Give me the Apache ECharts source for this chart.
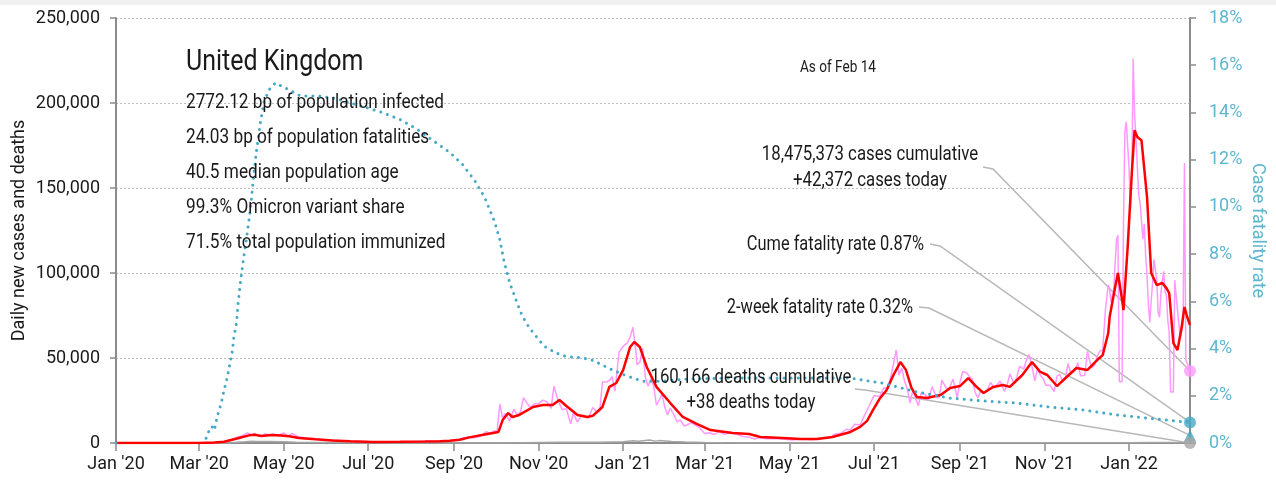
<!DOCTYPE html>
<html>
<head>
<meta charset="utf-8">
<script src="https://cdn.jsdelivr.net/npm/echarts@6/dist/echarts.min.js"></script>
<style>
  html, body { margin: 0; padding: 0; background: #ffffff; }
  #chart { width: 1276px; height: 482px; }
</style>
</head>
<body>
<div id="chart"></div>
<script>
// ---- data -------------------------------------------------------------
const FIRST_DAY = '2020-01-01';
const LAST_DAY = '2022-02-14';
const MONTHS = ['Jan','Feb','Mar','Apr','May','Jun','Jul','Aug','Sep','Oct','Nov','Dec'];

const countryName = 'United Kingdom';
const statLines = [
  '2772.12 bp of population infected',
  '24.03 bp of population fatalities',
  '40.5 median population age',
  '99.3% Omicron variant share',
  '71.5% total population immunized'
];
const asOfText = 'As of Feb 14';

const casesCumulative = '18,475,373';
const casesToday = 42372;
const deathsCumulative = '160,166';
const deathsToday = 38;
const cumeFatalityRate = 0.87;
const twoWeekFatalityRate = 0.32;

// 7-day average of new cases
const casesAvg = [
  ['2020-01-01',0],['2020-03-01',0],['2020-03-12',300],['2020-03-19',700],['2020-03-24',1800],
  ['2020-03-29',2800],['2020-04-06',4500],['2020-04-10',4800],['2020-04-15',4100],['2020-04-22',4700],
  ['2020-04-29',4400],['2020-05-05',4000],['2020-05-12',3000],['2020-05-24',2200],['2020-06-05',1500],
  ['2020-06-18',1000],['2020-07-04',600],['2020-07-24',700],['2020-08-11',900],['2020-08-22',1100],
  ['2020-08-29',1300],['2020-09-05',1900],['2020-09-12',3300],['2020-09-22',4800],['2020-10-03',6500],
  ['2020-10-06',13500],['2020-10-10',17600],['2020-10-13',15300],['2020-10-18',16500],['2020-10-28',21200],
  ['2020-11-04',22300],['2020-11-11',22300],['2020-11-16',25300],['2020-11-21',21800],['2020-11-29',16500],
  ['2020-12-06',15300],['2020-12-10',16000],['2020-12-17',21200],['2020-12-22',33000],['2020-12-27',35300],
  ['2021-01-01',43000],['2021-01-06',56500],['2021-01-09',59400],['2021-01-13',56500],['2021-01-18',44700],
  ['2021-01-25',33000],['2021-02-04',23500],['2021-02-13',15300],['2021-02-23',11200],['2021-03-05',7600],
  ['2021-03-21',5900],['2021-04-02',5300],['2021-04-10',3500],['2021-04-26',2900],['2021-05-09',2300],
  ['2021-05-21',2400],['2021-06-01',3500],['2021-06-14',6500],['2021-06-21',9500],['2021-06-26',13000],
  ['2021-06-30',19000],['2021-07-05',26000],['2021-07-10',31000],['2021-07-15',40000],['2021-07-20',47600],
  ['2021-07-24',43000],['2021-07-28',32400],['2021-08-01',27000],['2021-08-08',26500],['2021-08-18',28200],
  ['2021-08-25',32400],['2021-09-01',33500],['2021-09-07',38200],['2021-09-13',33000],['2021-09-18',29400],
  ['2021-09-25',33000],['2021-10-02',34100],['2021-10-07',33000],['2021-10-16',40000],['2021-10-23',47600],
  ['2021-10-29',41800],['2021-11-03',40000],['2021-11-10',33500],['2021-11-17',38800],['2021-11-24',44100],
  ['2021-12-02',43000],['2021-12-09',48800],['2021-12-13',51700],['2021-12-17',64700],['2021-12-18',74100],
  ['2021-12-22',91700],['2021-12-24',100000],['2021-12-27',84100],['2021-12-28',78200],['2021-12-31',115000],
  ['2022-01-03',158700],['2022-01-05',184000],['2022-01-07',180000],['2022-01-10',178000],['2022-01-14',144600],
  ['2022-01-17',100000],['2022-01-21',92900],['2022-01-25',94100],['2022-01-28',91100],['2022-01-30',88200],
  ['2022-02-02',58800],['2022-02-05',54700],['2022-02-08',68200],['2022-02-10',80000],['2022-02-12',74100],
  ['2022-02-14',69400]
];

// reported new cases per day
const casesDaily = [
  ['2020-01-01',0],['2020-03-01',0],['2020-03-10',50],['2020-03-17',400],['2020-03-22',1000],['2020-03-27',2900],
  ['2020-04-01',4300],['2020-04-05',5900],['2020-04-08',4600],['2020-04-10',5700],['2020-04-13',4300],
  ['2020-04-16',4600],['2020-04-18',5500],['2020-04-21',4300],['2020-04-24',5400],['2020-04-27',4300],
  ['2020-05-01',6000],['2020-05-04',4000],['2020-05-07',5600],['2020-05-11',3900],['2020-05-14',3400],
  ['2020-05-18',2700],['2020-05-22',2600],['2020-05-27',2000],['2020-06-03',1800],['2020-06-10',1400],
  ['2020-06-17',1100],['2020-06-25',900],['2020-07-02',700],['2020-07-12',600],['2020-07-22',800],
  ['2020-08-01',800],['2020-08-10',1000],['2020-08-20',1100],['2020-08-28',1400],['2020-09-04',1900],
  ['2020-09-08',3000],['2020-09-11',3500],['2020-09-14',3000],['2020-09-17',3400],['2020-09-20',4000],
  ['2020-09-24',6600],['2020-09-27',5700],['2020-09-30',7100],['2020-10-02',6900],['2020-10-04',23000],
  ['2020-10-06',14500],['2020-10-08',17500],['2020-10-11',12900],['2020-10-14',19700],['2020-10-17',16200],
  ['2020-10-19',18800],['2020-10-21',26700],['2020-10-24',23000],['2020-10-26',20900],['2020-10-29',23100],
  ['2020-11-01',23200],['2020-11-04',25200],['2020-11-07',24100],['2020-11-10',20400],['2020-11-12',33500],
  ['2020-11-15',24900],['2020-11-18',19600],['2020-11-21',20200],['2020-11-24',11300],['2020-11-26',17600],
  ['2020-11-29',12300],['2020-12-02',16200],['2020-12-04',16300],['2020-12-07',14700],['2020-12-10',20900],
  ['2020-12-13',18400],['2020-12-15',18500],['2020-12-17',35900],['2020-12-20',35900],['2020-12-22',36800],
  ['2020-12-24',39000],['2020-12-26',30500],['2020-12-29',53100],['2020-12-31',55900],
  ['2021-01-02',57700],['2021-01-04',58800],['2021-01-06',62300],['2021-01-08',68100],['2021-01-10',54900],
  ['2021-01-11',46100],['2021-01-13',47500],['2021-01-15',55800],['2021-01-17',38600],['2021-01-19',33400],
  ['2021-01-21',37900],['2021-01-23',33600],['2021-01-25',22200],['2021-01-27',25300],['2021-01-29',29100],
  ['2021-01-31',21000],['2021-02-02',16500],['2021-02-04',20600],['2021-02-07',15800],['2021-02-09',12400],
  ['2021-02-11',13500],['2021-02-14',10000],['2021-02-16',10600],['2021-02-19',12000],['2021-02-22',10600],
  ['2021-02-25',9000],['2021-03-01',5500],['2021-03-04',6000],['2021-03-08',5000],['2021-03-11',6700],
  ['2021-03-15',5100],['2021-03-19',6300],['2021-03-23',5400],['2021-03-28',3900],['2021-04-02',3400],
  ['2021-04-06',2400],['2021-04-09',3200],['2021-04-14',2500],['2021-04-19',2500],['2021-04-23',2500],
  ['2021-04-28',2200],['2021-05-03',1700],['2021-05-07',2000],['2021-05-12',2300],['2021-05-17',1900],
  ['2021-05-21',2700],['2021-05-26',3200],['2021-05-30',3200],['2021-06-03',5300],['2021-06-07',5700],
  ['2021-06-11',8100],['2021-06-14',7700],['2021-06-17',11000],['2021-06-21',10600],['2021-06-24',16100],
  ['2021-06-28',22800],['2021-07-01',27900],['2021-07-05',27300],['2021-07-08',32500],['2021-07-11',31800],
  ['2021-07-14',42300],['2021-07-17',54700],['2021-07-19',39900],['2021-07-21',44100],['2021-07-23',36400],
  ['2021-07-25',31800],['2021-07-27',23500],['2021-07-29',31100],['2021-07-31',26100],['2021-08-02',21900],
  ['2021-08-04',29300],['2021-08-07',28600],['2021-08-09',25200],['2021-08-12',33100],['2021-08-15',26800],
  ['2021-08-17',26800],['2021-08-19',37000],['2021-08-22',32300],['2021-08-24',31500],['2021-08-27',37600],
  ['2021-08-30',26500],['2021-09-01',35700],['2021-09-03',42100],['2021-09-06',41200],['2021-09-08',38900],
  ['2021-09-10',37600],['2021-09-12',29500],['2021-09-14',26600],['2021-09-16',30600],['2021-09-19',29600],
  ['2021-09-21',31600],['2021-09-23',35600],['2021-09-26',32400],['2021-09-28',34500],['2021-09-30',36500],
  ['2021-10-03',30400],['2021-10-05',33900],['2021-10-07',40700],['2021-10-10',35000],['2021-10-12',38500],
  ['2021-10-14',45100],['2021-10-17',43400],['2021-10-19',49000],['2021-10-21',52000],['2021-10-23',44900],
  ['2021-10-25',36600],['2021-10-27',43900],['2021-10-29',39800],['2021-10-31',38000],['2021-11-02',33900],
  ['2021-11-05',34000],['2021-11-08',30300],['2021-11-10',39300],['2021-11-12',40400],['2021-11-14',36500],
  ['2021-11-16',37600],['2021-11-18',46800],['2021-11-20',40900],['2021-11-23',42500],['2021-11-25',47200],
  ['2021-11-27',39600],['2021-11-30',39700],['2021-12-02',53900],['2021-12-05',43900],['2021-12-07',45700],
  ['2021-12-09',50900],['2021-12-11',54100],['2021-12-13',54700],['2021-12-15',78600],['2021-12-17',93000],
  ['2021-12-18',90400],['2021-12-19',82900],['2021-12-21',90600],['2021-12-22',106100],['2021-12-23',119800],
  ['2021-12-24',122200],['2021-12-25',36000],['2021-12-27',36000],['2021-12-28',129000],['2021-12-29',183000],
  ['2021-12-30',189000],['2021-12-31',189000],['2022-01-01',162000],['2022-01-02',137000],['2022-01-03',157000],
  ['2022-01-04',226000],['2022-01-05',194000],['2022-01-06',179000],['2022-01-07',179000],['2022-01-08',146000],
  ['2022-01-09',141000],['2022-01-10',142000],['2022-01-11',120000],['2022-01-12',129000],['2022-01-13',110000],
  ['2022-01-14',99000],['2022-01-15',81000],['2022-01-16',71000],['2022-01-17',84000],['2022-01-18',94000],
  ['2022-01-19',108000],['2022-01-20',107000],['2022-01-21',96000],['2022-01-22',77000],['2022-01-23',74000],
  ['2022-01-24',88000],['2022-01-25',95000],['2022-01-26',101000],['2022-01-27',89000],['2022-01-28',87000],
  ['2022-01-29',72000],['2022-01-30',65000],['2022-01-31',30000],['2022-02-02',30000],['2022-02-03',95800],
  ['2022-02-05',78000],['2022-02-07',62000],['2022-02-09',70000],['2022-02-10',164700],['2022-02-11',48800],
  ['2022-02-13',45000],['2022-02-14',casesToday]
];

// reported deaths per day
const deathsDaily = [
  ['2020-01-01',0],['2020-03-10',0],['2020-03-20',50],['2020-03-28',400],['2020-04-03',700],['2020-04-08',1000],
  ['2020-04-12',900],['2020-04-21',850],['2020-05-01',700],['2020-05-10',450],['2020-05-20',350],['2020-06-01',250],
  ['2020-06-15',150],['2020-07-01',80],['2020-08-01',30],['2020-09-01',10],['2020-10-01',60],['2020-10-20',150],
  ['2020-11-01',300],['2020-11-15',450],['2020-12-01',450],['2020-12-15',500],['2021-01-01',700],['2021-01-08',1300],
  ['2021-01-12',1000],['2021-01-20',1800],['2021-01-24',1100],['2021-01-27',1400],['2021-02-05',900],['2021-02-15',600],
  ['2021-03-01',300],['2021-03-15',150],['2021-04-01',50],['2021-05-01',15],['2021-06-01',10],['2021-07-01',20],
  ['2021-07-25',70],['2021-08-15',100],['2021-09-01',120],['2021-10-01',120],['2021-11-01',160],['2021-12-01',120],
  ['2022-01-01',150],['2022-01-15',270],['2022-02-01',250],['2022-02-14',deathsToday]
];

// cumulative case fatality rate, %
const fatalityRate = [
  ['2020-01-01',0],['2020-01-06',0],['2020-01-07','-'],
  ['2020-03-06',0.2],['2020-03-08',0.5],['2020-03-09',0.68],['2020-03-11',0.68],['2020-03-12',0.55],
  ['2020-03-14',1.1],['2020-03-17',1.7],['2020-03-19',2.24],['2020-03-21',2.7],['2020-03-23',3.3],
  ['2020-03-25',3.9],['2020-03-26',4.45],['2020-03-28',5.1],['2020-03-29',5.85],['2020-03-31',6.9],
  ['2020-04-02',7.8],['2020-04-04',8.6],['2020-04-07',9.9],['2020-04-09',11.1],['2020-04-11',12.2],
  ['2020-04-14',13.5],['2020-04-17',14.5],['2020-04-21',15.0],['2020-04-25',15.25],['2020-04-30',15.1],
  ['2020-05-05',14.95],['2020-05-13',14.7],['2020-05-25',14.7],['2020-06-07',14.6],['2020-06-18',14.4],
  ['2020-06-30',14.2],['2020-07-11',14.0],['2020-07-24',13.7],['2020-08-05',13.3],['2020-08-17',12.8],
  ['2020-08-29',12.3],['2020-09-07',11.8],['2020-09-16',11.1],['2020-09-23',10.4],['2020-09-30',9.4],
  ['2020-10-04',8.6],['2020-10-07',7.7],['2020-10-11',6.8],['2020-10-16',6.0],['2020-10-20',5.4],
  ['2020-10-25',4.9],['2020-10-31',4.45],['2020-11-05',4.1],['2020-11-11',3.9],['2020-11-18',3.7],
  ['2020-11-25',3.64],['2020-12-03',3.6],['2020-12-10',3.5],['2020-12-17',3.3],['2020-12-24',3.1],
  ['2021-01-01',2.9],['2021-01-08',2.75],['2021-01-15',2.62],['2021-01-29',2.62],['2021-02-14',2.7],
  ['2021-03-16',2.75],['2021-06-13',2.75],['2021-07-07',2.54],['2021-08-01',2.16],['2021-08-25',1.9],
  ['2021-09-18',1.78],['2021-10-12',1.69],['2021-11-05',1.52],['2021-11-29',1.4],['2021-12-23',1.19],
  ['2022-01-28',0.97],['2022-02-14',cumeFatalityRate]
];

const casesTicks = [0, 50000, 100000, 150000, 200000, 250000];
const rateTicks = [0, 2, 4, 6, 8, 10, 12, 14, 16, 18];

// ---- style ------------------------------------------------------------
const FONT = 'Roboto, "Liberation Sans", sans-serif';
const INK = '#1a1a1a';
const TEAL = '#45a9c6';
const TEAL_TEXT = '#5fb6cf';
const PINK = '#ff99ff';
const RED = '#ff0000';
const AXIS_GRAY = '#8c8c8c';
const LEADER = '#b8b8b8';

// one category per calendar day
const days = [];
for (let t = Date.UTC(2020, 0, 1); t <= Date.UTC(2022, 1, 14); t += 86400000) {
  days.push(new Date(t).toISOString().slice(0, 10));
}
const isTickDay = (value) => value.slice(8) === '01' && (+value.slice(5, 7)) % 2 === 1;
const monthLabel = (value) => MONTHS[+value.slice(5, 7) - 1] + " '" + value.slice(2, 4);

const chart = echarts.init(document.getElementById('chart'), null, { renderer: 'canvas' });

const option = {
  animation: false,
  backgroundColor: '#ffffff',
  textStyle: { fontFamily: FONT },
  grid: { left: 116, right: 86, top: 18, bottom: 39, containLabel: false, outerBoundsMode: 'none' },
  xAxis: {
    type: 'category',
    data: days,
    boundaryGap: false,
    axisLine: { lineStyle: { color: AXIS_GRAY, width: 2 } },
    axisTick: { interval: (i, v) => isTickDay(v), length: 8, lineStyle: { color: AXIS_GRAY, width: 1.5 } },
    axisLabel: {
      interval: (i, v) => isTickDay(v),
      formatter: monthLabel,
      fontFamily: FONT, fontSize: 18, color: INK, margin: 12
    },
    splitLine: { show: false }
  },
  yAxis: [
    {
      type: 'value', min: casesTicks[0], max: casesTicks[casesTicks.length - 1], interval: 50000,
      name: 'Daily new cases and deaths', nameLocation: 'middle', nameGap: 88, nameMoveOverlap: false,
      nameTextStyle: { fontFamily: FONT, fontSize: 18, color: INK },
      axisLine: { show: true, lineStyle: { color: AXIS_GRAY, width: 2 } },
      axisTick: { show: true, length: 6, lineStyle: { color: AXIS_GRAY, width: 1.5 } },
      axisLabel: { fontFamily: FONT, fontSize: 18, color: INK, margin: 16,
        formatter: (v) => v.toLocaleString('en-US') },
      splitLine: { show: true, lineStyle: { color: '#bdbdbd', type: [2, 2], width: 1 } }
    },
    {
      type: 'value', min: rateTicks[0], max: rateTicks[rateTicks.length - 1], interval: 2,
      position: 'right',
      name: 'Case fatality rate', nameLocation: 'middle', nameGap: 58, nameRotate: -90, nameMoveOverlap: false,
      nameTextStyle: { fontFamily: FONT, fontSize: 18, color: TEAL_TEXT },
      axisLine: { show: true, lineStyle: { color: AXIS_GRAY, width: 2 } },
      axisTick: { show: true, length: 6, lineStyle: { color: AXIS_GRAY, width: 1.5 } },
      axisLabel: { fontFamily: FONT, fontSize: 18, color: TEAL_TEXT, margin: 19,
        formatter: (v) => v + '%' },
      splitLine: { show: false }
    }
  ],
  series: [
    {
      name: 'Deaths', type: 'line', yAxisIndex: 0, data: deathsDaily,
      showSymbol: false, symbol: 'none', z: 2,
      lineStyle: { color: '#a6a6a6', width: 1.5 }
    },
    {
      name: 'Daily cases', type: 'line', yAxisIndex: 0, data: casesDaily,
      showSymbol: false, symbol: 'none', z: 3,
      lineStyle: { color: PINK, width: 1.5 }
    },
    {
      name: 'Cases 7-day average', type: 'line', yAxisIndex: 0, data: casesAvg,
      showSymbol: false, symbol: 'none', z: 4,
      lineStyle: { color: RED, width: 2.5 }
    },
    {
      name: 'Case fatality rate', type: 'line', yAxisIndex: 1, data: fatalityRate,
      showSymbol: false, symbol: 'none', connectNulls: false, z: 5,
      lineStyle: { color: TEAL, width: 3, type: [0.01, 7], cap: 'round' }
    },
    {
      name: 'Cases today', type: 'scatter', yAxisIndex: 0, z: 6,
      data: [[LAST_DAY, casesToday]], symbol: 'circle', symbolSize: 12,
      itemStyle: { color: PINK }
    },
    {
      name: 'Cume fatality rate', type: 'scatter', yAxisIndex: 1, z: 6,
      data: [[LAST_DAY, cumeFatalityRate]], symbol: 'circle', symbolSize: 12,
      itemStyle: { color: TEAL }
    },
    {
      name: '2-week fatality rate', type: 'scatter', yAxisIndex: 1, z: 6,
      data: [[LAST_DAY, twoWeekFatalityRate]], symbol: 'triangle', symbolSize: 12,
      itemStyle: { color: TEAL }
    },
    {
      name: 'Deaths today', type: 'scatter', yAxisIndex: 0, z: 6,
      data: [[LAST_DAY, deathsToday]], symbol: 'circle', symbolSize: 12,
      itemStyle: { color: '#a6a6a6' }
    }
  ]
};
chart.setOption(option);

// ---- annotations --------------------------------------------------------
// captions use a horizontally squeezed face to get a condensed look
function txt(x, y, text, size, align, squeeze) {
  return {
    type: 'text', x: x, y: y, scaleX: squeeze, z: 20, silent: true,
    style: { text: text, font: size + 'px ' + FONT, fill: INK,
      textAlign: align || 'left', textVerticalAlign: 'middle' }
  };
}
function leader(x0, y0, x1, y1, seriesIndex, value) {
  const end = chart.convertToPixel({ seriesIndex: seriesIndex }, [LAST_DAY, value]);
  return {
    type: 'polyline', z: 1, silent: true,
    shape: { points: [[x0, y0], [x1, y1], end] },
    style: { stroke: LEADER, lineWidth: 1.5, fill: null }
  };
}

const graphics = [
  { type: 'rect', z: 0, silent: true, shape: { x: 0, y: 0, width: 1276, height: 5 }, style: { fill: '#f1f1f1' } },
  txt(186, 63, countryName, 29, 'left', 0.86),
  txt(838, 68, asOfText, 16, 'center', 0.85),
  txt(870, 155, casesCumulative + ' cases cumulative', 20, 'center', 0.84),
  txt(870, 181, '+' + casesToday.toLocaleString('en-US') + ' cases today', 20, 'center', 0.84),
  txt(924, 245, 'Cume fatality rate ' + cumeFatalityRate.toFixed(2) + '%', 20, 'right', 0.82),
  txt(913, 308, '2-week fatality rate ' + twoWeekFatalityRate.toFixed(2) + '%', 20, 'right', 0.82),
  txt(751, 378, deathsCumulative + ' deaths cumulative', 20, 'center', 0.84),
  txt(751, 403, '+' + deathsToday + ' deaths today', 20, 'center', 0.84),
  leader(983, 167, 993, 169, 4, casesToday),
  leader(930, 244, 940, 246, 5, cumeFatalityRate),
  leader(919, 307, 929, 308, 6, twoWeekFatalityRate),
  leader(855, 389, 865, 390, 7, deathsToday)
];
statLines.forEach((line, i) => graphics.push(txt(186, 103 + i * 35, line, 20, 'left', 0.86)));

chart.setOption({ graphic: graphics });
</script>
</body>
</html>
